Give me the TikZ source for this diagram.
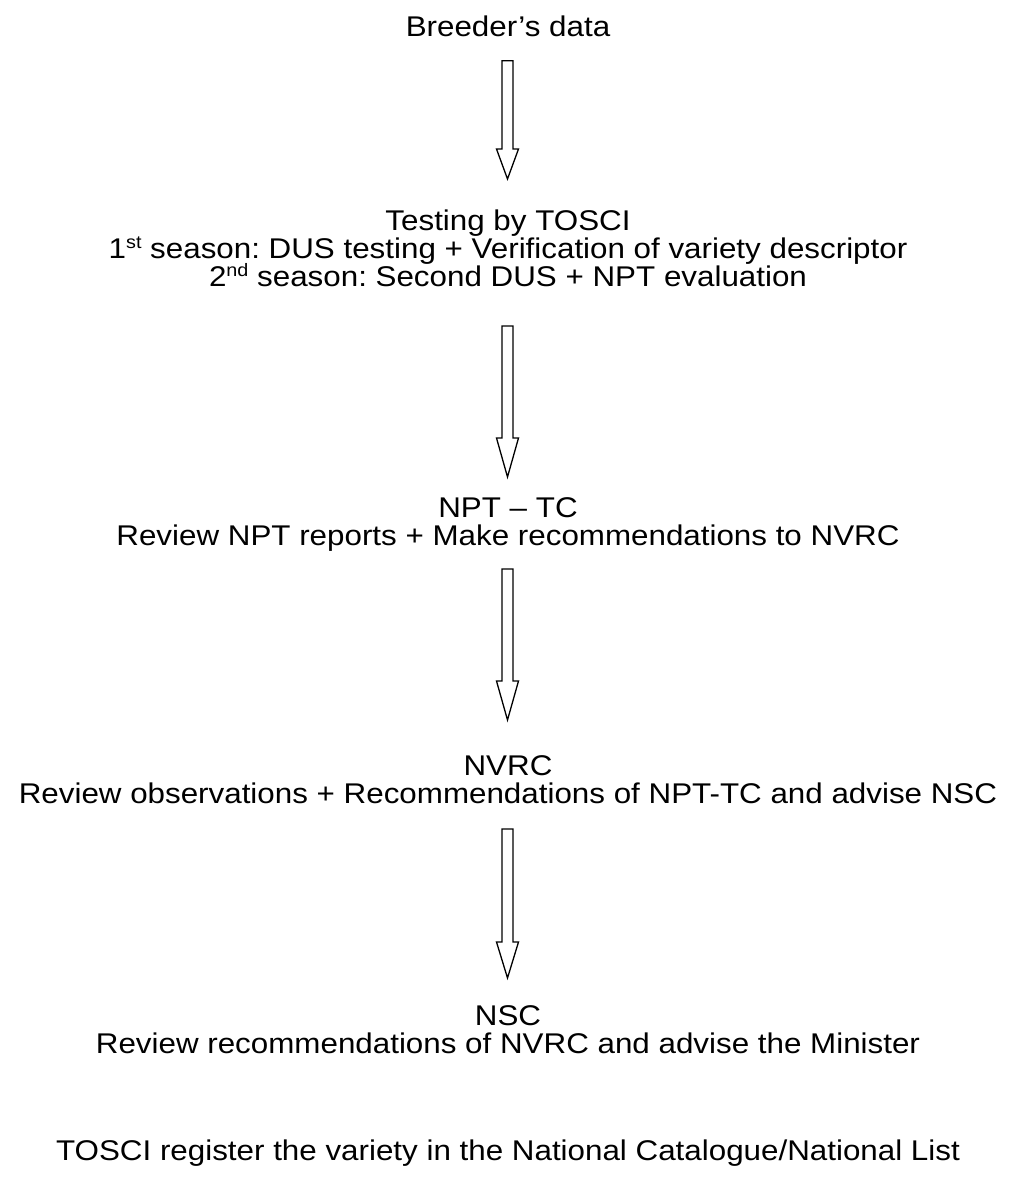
\documentclass[tikz,border=0pt]{standalone}
\usepackage{fontspec}
\setmainfont{Liberation Sans}[FakeStretch=1.1]
\usetikzlibrary{calc}
\frenchspacing
\tikzset{
  lbl/.style={anchor=base, inner sep=0pt, font=\fontsize{28.5}{28.5}\selectfont},
  arrowline/.style={draw=black, line width=1.3pt, fill=white, line join=miter}
}
\newcommand\supx[1]{\raisebox{0.62ex}{\fontsize{18}{18}\selectfont #1}}
\newcommand\blockarrow[3]{%
  \draw[arrowline] let \p1=(#1), \p2=(#2) in
    (\x1-5.5pt,\y1) -- (\x1+5.5pt,\y1) -- (\x1+5.5pt,\y2+#3) -- (\x1+11pt,\y2+#3)
    -- (\x2,\y2) -- (\x1-11pt,\y2+#3) -- (\x1-5.5pt,\y2+#3) -- cycle;}
\begin{document}
\begin{tikzpicture}[x=1pt,y=-1pt]
\useasboundingbox[fill=white] (0,0) rectangle (1013,1180);
\node[lbl] (breeder) at (508,37) {Breeder’s data};
\node[lbl] (testing) at (508,230) {Testing by TOSCI};
\node[lbl] (season1) at (508,258) {1\supx{st} season: DUS testing + Verification of variety descriptor};
\node[lbl] (season2) at (508,286) {2\supx{nd} season: Second DUS + NPT evaluation};
\node[lbl] (npttc) at (508,517) {NPT – TC};
\node[lbl] (reviewnpt) at (508,545) {Review NPT reports + Make recommendations to NVRC};
\node[lbl] (nvrc) at (508,775) {NVRC};
\node[lbl] (reviewobs) at (508,803) {Review observations + Recommendations of NPT-TC and advise NSC};
\node[lbl] (nsc) at (508,1025) {NSC};
\node[lbl] (reviewrec) at (508,1053) {Review recommendations of NVRC and advise the Minister};
\node[lbl] (register) at (508,1160) {TOSCI register the variety in the National Catalogue/National List};
\coordinate (a1s) at (507.5,60.7);  \coordinate (a1e) at (507.5,179);
\coordinate (a2s) at (507.5,326);   \coordinate (a2e) at (507.5,477);
\coordinate (a3s) at (507.5,569);   \coordinate (a3e) at (507.5,720);
\coordinate (a4s) at (507.5,829);   \coordinate (a4e) at (507.5,978);
\blockarrow{a1s}{a1e}{30pt}
\blockarrow{a2s}{a2e}{39pt}
\blockarrow{a3s}{a3e}{39pt}
\blockarrow{a4s}{a4e}{36pt}
\end{tikzpicture}
\end{document}
